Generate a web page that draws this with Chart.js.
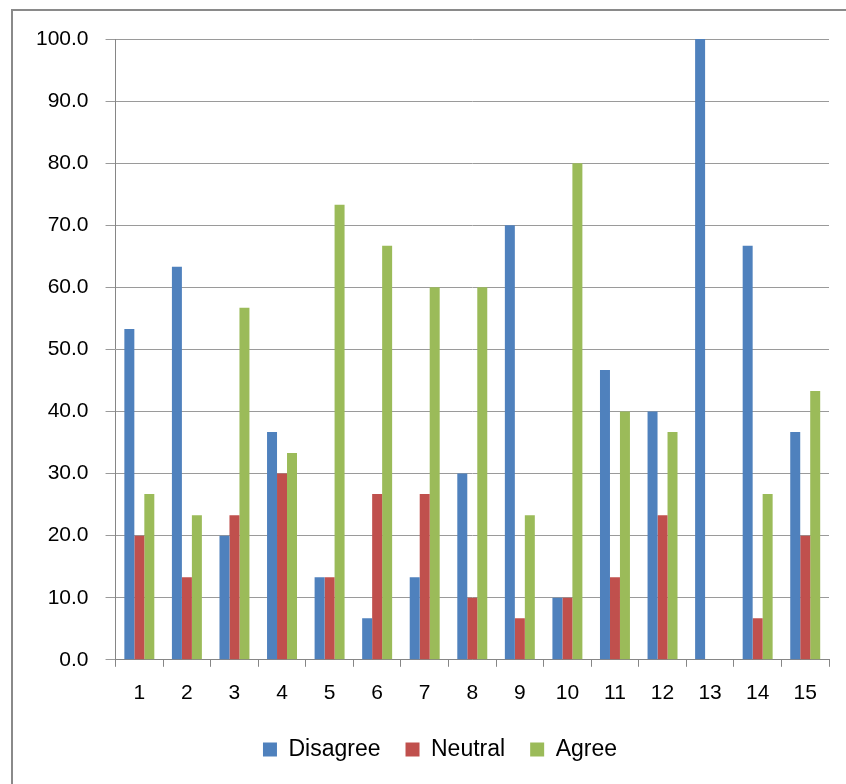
<!DOCTYPE html>
<html>
<head>
<meta charset="utf-8">
<script src="https://cdn.jsdelivr.net/npm/chart.js@4"></script>
<style>
  html, body { margin: 0; padding: 0; background: #fff; }
  #wrap { position: relative; width: 846px; height: 784px; }
  #frame { position: absolute; left: 11px; top: 9px; width: 840px; height: 790px; border: 2px solid #8a8a8a; box-sizing: border-box; }
  canvas { position: absolute; left: 0; top: 0; }
</style>
</head>
<body>
<div id="wrap">
  <div id="frame"></div>
  <canvas id="chart" width="846" height="784"></canvas>
</div>
<script>
// categories (statement numbers)
const items = ['1', '2', '3', '4', '5', '6', '7', '8', '9', '10', '11', '12', '13', '14', '15'];

// percent of respondents per answer
const disagree = [53.3, 63.3, 20.0, 36.7, 13.3, 6.7, 13.3, 30.0, 70.0, 10.0, 46.7, 40.0, 100.0, 66.7, 36.7];
const neutral  = [20.0, 13.3, 23.3, 30.0, 13.3, 26.7, 26.7, 10.0, 6.7, 10.0, 13.3, 23.3, 0.0, 6.7, 20.0];
const agree    = [26.7, 23.3, 56.7, 33.3, 73.3, 66.7, 60.0, 60.0, 23.3, 80.0, 40.0, 36.7, 0.0, 26.7, 43.3];

const font = "'Liberation Sans', 'DejaVu Sans', sans-serif";

// the legend sits a bit right of the plot centre in the original
const legendShift = {
  id: 'legendShift',
  afterLayout(chart) {
    chart.legend.left += 16;
    chart.legend.right += 16;
  }
};

const ctx = document.getElementById('chart').getContext('2d');

new Chart(ctx, {
  type: 'bar',
  data: {
    labels: items,
    datasets: [
      { label: 'Disagree', data: disagree, backgroundColor: '#4F81BD' },
      { label: 'Neutral', data: neutral, backgroundColor: '#C0504D' },
      { label: 'Agree', data: agree, backgroundColor: '#9BBB59' }
    ]
  },
  plugins: [legendShift],
  options: {
    responsive: false,
    animation: false,
    layout: { padding: { left: 19, right: 17, top: 39, bottom: 13 } },
    datasets: {
      bar: { categoryPercentage: 0.63, barPercentage: 1.0 }
    },
    plugins: {
      tooltip: { enabled: false },
      legend: {
        position: 'bottom',
        labels: {
          font: { family: font, size: 23 },
          color: '#000',
          boxWidth: 14,
          boxHeight: 14,
          padding: 25
        }
      }
    },
    scales: {
      x: {
        offset: true,
        grid: {
          offset: true,
          drawOnChartArea: false,
          drawTicks: true,
          tickLength: 7,
          color: '#868686'
        },
        border: { color: '#868686', width: 1 },
        ticks: { font: { family: font, size: 21 }, color: '#000', padding: 14 },
        // trim the empty strip below the category labels
        afterFit: scale => { scale.height -= 7; }
      },
      y: {
        min: 0,
        max: 100,
        grid: { color: '#9a9a9a', tickLength: 10, drawTicks: true },
        border: { color: '#868686', width: 1 },
        ticks: {
          stepSize: 10,
          font: { family: font, size: 21 },
          color: '#000',
          padding: 17,
          callback: v => v.toFixed(1)
        }
      }
    }
  }
});
</script>
</body>
</html>
